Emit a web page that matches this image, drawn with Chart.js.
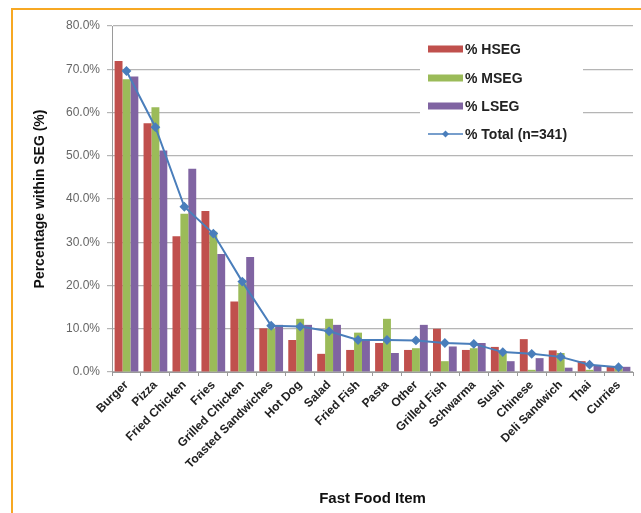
<!DOCTYPE html>
<html>
<head>
<meta charset="utf-8">
<script src="https://cdn.jsdelivr.net/npm/chart.js@4/dist/chart.umd.min.js"></script>
<style>
  html, body { margin: 0; padding: 0; background: #fff; }
  #wrap { position: relative; width: 641px; height: 513px; overflow: hidden; }
  #frame { position: absolute; left: 11px; top: 8px; width: 700px; height: 600px;
           border-left: 2px solid #F7A823; border-top: 2px solid #F7A823; pointer-events: none; }
  canvas { position: absolute; left: 0; top: 0; }
</style>
</head>
<body>
<div id="wrap">
  <canvas id="c" width="641" height="513"></canvas>
  <div id="frame"></div>
</div>
<script>
const categories = ["Burger", "Pizza", "Fried Chicken", "Fries", "Grilled Chicken", "Toasted Sandwiches",
  "Hot Dog", "Salad", "Fried Fish", "Pasta", "Other", "Grilled Fish", "Schwarma", "Sushi",
  "Chinese", "Deli Sandwich", "Thai", "Curries"];
const hseg  = [71.9, 57.5, 31.4, 37.2, 16.3, 10.1, 7.4, 4.2, 5.1, 6.7, 5.1, 10.0, 5.1, 5.8, 7.6, 5.0, 2.5, 1.3];
const mseg  = [67.7, 61.2, 36.6, 32.4, 20.5, 10.0, 12.3, 12.3, 9.1, 12.3, 5.5, 2.5, 5.5, 4.4, 0.5, 4.4, 0.5, 0.8];
const lseg  = [68.3, 51.2, 47.0, 27.3, 26.6, 10.9, 10.9, 10.9, 7.4, 4.4, 10.9, 5.9, 6.7, 2.5, 3.2, 1.0, 1.5, 1.2];
const total = [69.6, 56.6, 38.2, 32.0, 20.9, 10.7, 10.5, 9.4, 7.4, 7.4, 7.3, 6.7, 6.5, 4.6, 4.2, 3.5, 1.7, 1.1];
const yTicks = [0, 10, 20, 30, 40, 50, 60, 70, 80];
const seriesNames = ["% HSEG", "% MSEG", "% LSEG", "% Total (n=341)"];

const RED = "#C0504D", GREEN = "#9BBB59", PURPLE = "#8064A2", BLUE = "#4A7EBB";
const FONT = "'Liberation Sans', Arial, sans-serif";

const legendPlugin = {
  id: "customLegend",
  afterDraw(chart) {
    const ctx = chart.ctx;
    ctx.save();
    ctx.fillStyle = "#fff";
    ctx.fillRect(420, 36, 163, 112);
    const items = [
      { t: seriesNames[0], c: RED, type: "bar" },
      { t: seriesNames[1], c: GREEN, type: "bar" },
      { t: seriesNames[2], c: PURPLE, type: "bar" },
      { t: seriesNames[3], c: BLUE, type: "line" }
    ];
    const ys = [49, 78, 106, 134];
    ctx.font = "bold 14px " + FONT;
    ctx.textBaseline = "middle";
    items.forEach((it, i) => {
      const y = ys[i];
      if (it.type === "bar") {
        ctx.fillStyle = it.c;
        ctx.fillRect(428, y - 3.5, 35, 7);
      } else {
        ctx.strokeStyle = it.c; ctx.lineWidth = 1.5;
        ctx.beginPath(); ctx.moveTo(428, y); ctx.lineTo(463, y); ctx.stroke();
        ctx.fillStyle = it.c;
        ctx.beginPath(); ctx.moveTo(445.5, y - 3.5); ctx.lineTo(449, y); ctx.lineTo(445.5, y + 3.5); ctx.lineTo(442, y); ctx.closePath(); ctx.fill();
      }
      ctx.fillStyle = "#222";
      ctx.fillText(it.t, 465, y + 1);
    });
    ctx.restore();
  }
};

new Chart(document.getElementById("c"), {
  type: "bar",
  data: {
    labels: categories,
    datasets: [
      { type: "line", label: seriesNames[3], data: total, borderColor: BLUE, backgroundColor: BLUE,
        borderWidth: 2, pointStyle: "rectRot", pointRadius: 3.5, pointBackgroundColor: BLUE,
        pointBorderColor: BLUE, tension: 0, order: 0 },
      { label: seriesNames[0], data: hseg, backgroundColor: RED, order: 1,
        categoryPercentage: 0.82, barPercentage: 1.0 },
      { label: seriesNames[1], data: mseg, backgroundColor: GREEN, order: 1,
        categoryPercentage: 0.82, barPercentage: 1.0 },
      { label: seriesNames[2], data: lseg, backgroundColor: PURPLE, order: 1,
        categoryPercentage: 0.82, barPercentage: 1.0 }
    ]
  },
  options: {
    responsive: false,
    animation: false,
    layout: { padding: { left: 0, right: 8, top: 26, bottom: 0 } },
    plugins: { legend: { display: false }, tooltip: { enabled: false } },
    scales: {
      x: {
        offset: true,
        grid: { display: true, drawOnChartArea: false, drawTicks: true, tickLength: 4, offset: true, color: "#9a9a9a" },
        border: { display: true, color: "#9a9a9a" },
        ticks: { color: "#222", maxRotation: 45, minRotation: 45, autoSkip: false, padding: 2,
                 font: { family: FONT, size: 12, weight: "bold" } },
        title: { display: true, text: "Fast Food Item", color: "#111",
                 font: { family: FONT, size: 15, weight: "bold" }, padding: { top: 0, bottom: 5 } },
        afterFit(s) { s.height = 141; }
      },
      y: {
        min: 0, max: 80,
        afterBuildTicks(s) { s.ticks = yTicks.map(v => ({ value: v })); },
        grid: { color: "#b5b5b5", lineWidth: 1.2, drawTicks: true, tickLength: 5 },
        border: { display: true, color: "#9a9a9a" },
        ticks: { color: "#666", padding: 7, font: { family: FONT, size: 12 },
                 callback: v => v.toFixed(1) + "%" },
        title: { display: true, text: "Percentage within SEG (%)", color: "#111",
                 font: { family: FONT, size: 14, weight: "bold" }, padding: { top: 32, bottom: 0 } },
        afterFit(s) { s.width = 112; }
      }
    }
  },
  plugins: [legendPlugin]
});
</script>
</body>
</html>
